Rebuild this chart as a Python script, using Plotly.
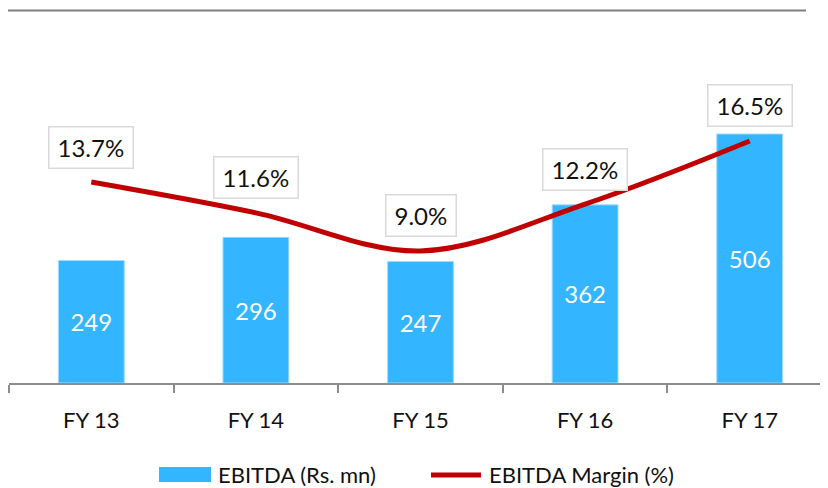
import plotly.graph_objects as go

categories = ["FY 13", "FY 14", "FY 15", "FY 16", "FY 17"]
ebitda = [249, 296, 247, 362, 506]
margin_pct = [13.7, 11.6, 9.0, 12.2, 16.5]
bar_name = "EBITDA (Rs. mn)"
line_name = "EBITDA Margin (%)"

OFF = 8  # browser body margin
W, H = 828 - OFF, 488 - OFF
ML, MR, MT, MB = 9 - OFF, 0, 30 - OFF, 488 - 383
PW, PH = W - ML - MR, H - MT - MB
FONT = "Lato"
BLUE = "#33B5FF"
RED = "#C00000"
TXT = "#111111"


def px(x):
    # page pixel x -> paper coordinate
    return (x - OFF - ML) / PW


def py(y):
    # page pixel y -> paper coordinate
    return (H - MB - (y - OFF)) / PH


fig = go.Figure()
fig.add_trace(go.Bar(
    x=categories, y=ebitda, name=bar_name,
    marker=dict(color=BLUE, line=dict(color="#9fdbff", width=1)),
    width=0.4,
    text=[str(v) for v in ebitda], textposition="inside",
    insidetextanchor="middle", textangle=0, constraintext="none",
    textfont=dict(color="white", size=24, family=FONT),
    showlegend=False,
))
fig.add_trace(go.Scatter(
    x=categories, y=margin_pct, name=line_name, yaxis="y2",
    mode="lines", line=dict(color=RED, width=5, shape="spline", smoothing=1),
    showlegend=False,
))

for c, v in zip(categories, margin_pct):
    fig.add_annotation(
        x=c, y=v, xref="x", yref="y2", yshift=35,
        text=f"{v:.1f}%", showarrow=False,
        font=dict(size=24, color=TXT, family=FONT),
        bgcolor="white", bordercolor="#d9d9d9", borderwidth=1.5,
        borderpad=8, height=24,
    )

# top decorative line
fig.add_shape(type="line", xref="paper", yref="paper",
              x0=px(OFF), x1=px(806), y0=py(10.5), y1=py(10.5),
              line=dict(color="#808080", width=2))

# manual legend
fig.add_shape(type="rect", xref="paper", yref="paper",
              x0=px(159), x1=px(211), y0=py(482), y1=py(467),
              fillcolor=BLUE, line=dict(width=0))
fig.add_annotation(xref="paper", yref="paper", x=px(216), y=py(474.5),
                   xanchor="left", yanchor="middle", showarrow=False,
                   text=bar_name, font=dict(size=22, color=TXT, family=FONT))
fig.add_shape(type="line", xref="paper", yref="paper",
              x0=px(431), x1=px(481), y0=py(475), y1=py(475),
              line=dict(color=RED, width=5))
fig.add_annotation(xref="paper", yref="paper", x=px(487), y=py(474.5),
                   xanchor="left", yanchor="middle", showarrow=False,
                   text=line_name, font=dict(size=22, color=TXT, family=FONT))

fig.update_layout(
    width=W, height=H,
    margin=dict(l=ML, r=MR, t=MT, b=MB),
    paper_bgcolor="white", plot_bgcolor="white",
    font=dict(family=FONT, size=22, color=TXT),
    xaxis=dict(
        type="category", range=[-0.5, -0.5 + PW / 164.6],
        showline=True, linecolor="#8c8c8c", linewidth=2,
        ticks="outside", tickson="boundaries", ticklen=8,
        tickcolor="#8c8c8c", tickwidth=2,
        showgrid=False, ticklabelstandoff=17,
        tickfont=dict(size=22, family=FONT, color=TXT),
    ),
    yaxis=dict(range=[0, PH / 0.4921], visible=False, showgrid=False),
    yaxis2=dict(range=[0, PH / 14.67], overlaying="y", visible=False,
                showgrid=False),
    showlegend=False,
)

fig.write_html("out.html")
